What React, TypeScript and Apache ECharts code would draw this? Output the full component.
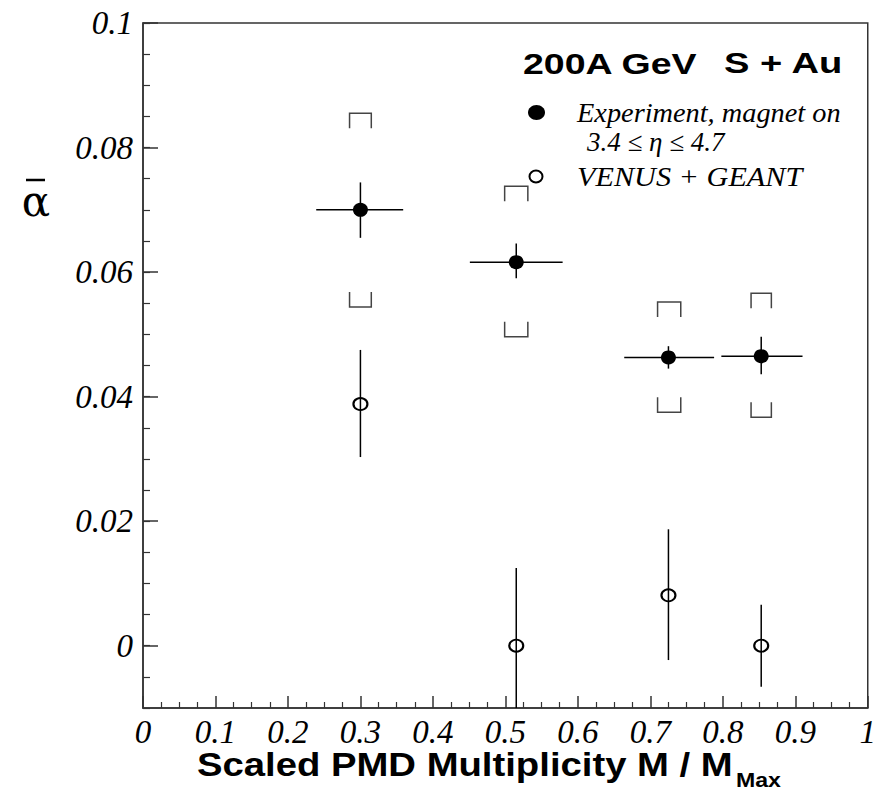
import React, { useEffect, useRef } from "react";
import * as echarts from "echarts";

// ---- data ----
const xCenters = [0.3, 0.515, 0.725, 0.853];

const expY = [0.07, 0.0616, 0.0463, 0.0465];
const expYLow = [0.0655, 0.059, 0.0445, 0.0436];
const expYHigh = [0.0744, 0.0646, 0.0481, 0.0496];
const expXLow = [0.239, 0.451, 0.664, 0.798];
const expXHigh = [0.359, 0.579, 0.788, 0.91];

const sysHigh = [0.0855, 0.0738, 0.0552, 0.0566];
const sysLow = [0.0544, 0.0496, 0.0375, 0.0367];
const sysXLow = [0.285, 0.499, 0.71, 0.839];
const sysXHigh = [0.315, 0.531, 0.742, 0.867];

const simY = [0.0388, 0.0, 0.0081, 0.0];
const simYLow = [0.0303, -0.0125, -0.0023, -0.0066];
const simYHigh = [0.0475, 0.0125, 0.0187, 0.0066];

const yMajorTicks = [0, 0.02, 0.04, 0.06, 0.08, 0.1];

const TITLE_A = "200A GeV";
const TITLE_B = "S + Au";
const LEG_EXP_1 = "Experiment, magnet on";
const LEG_EXP_2 = "3.4 \u2264 \u03b7 \u2264 4.7";
const LEG_SIM = "VENUS + GEANT";
const X_TITLE = "Scaled PMD Multiplicity M / M";
const X_TITLE_SUB = "Max";
const Y_TITLE = "\u03b1";

export default function App() {
  const ref = useRef<HTMLDivElement>(null);

  useEffect(() => {
    document.body.style.margin = "0";
    if (!ref.current) return;
    const chart = echarts.init(ref.current, undefined, { renderer: "svg" });

    const expData = xCenters.map((x, i) => [x, expY[i]]);
    const expErr = xCenters.map((x, i) => [x, expY[i], expYLow[i], expYHigh[i], expXLow[i], expXHigh[i]]);
    const sysData = xCenters.map((x, i) => [sysXLow[i], sysXHigh[i], sysHigh[i], sysLow[i]]);
    const simData = xCenters.map((x, i) => [x, simY[i]]);
    const simErr = xCenters.map((x, i) => [x, simY[i], simYLow[i], simYHigh[i]]);

    const axisColor = "#333";
    const tickFont = {
      fontFamily: "Liberation Serif",
      fontStyle: "italic" as const,
      fontSize: 33,
      color: "#000",
    };

    const errRender = (params: any, api: any) => {
      const x = api.value(0);
      const y = api.value(1);
      const lo = api.coord([x, api.value(2)]);
      const hi = api.coord([x, api.value(3)]);
      const children: any[] = [
        {
          type: "line",
          shape: { x1: lo[0], y1: lo[1], x2: hi[0], y2: hi[1] },
          style: { stroke: "#000", lineWidth: 1.5 },
        },
      ];
      const xl = api.value(4);
      const xh = api.value(5);
      if (isFinite(xl) && isFinite(xh)) {
        const a = api.coord([xl, y]);
        const b = api.coord([xh, y]);
        children.push({
          type: "line",
          shape: { x1: a[0], y1: a[1], x2: b[0], y2: b[1] },
          style: { stroke: "#000", lineWidth: 1.5 },
        });
      }
      return { type: "group", children };
    };

    const leg = 15;
    const bracketRender = (params: any, api: any) => {
      const xl = api.value(0);
      const xh = api.value(1);
      const t1 = api.coord([xl, api.value(2)]);
      const t2 = api.coord([xh, api.value(2)]);
      const b1 = api.coord([xl, api.value(3)]);
      const b2 = api.coord([xh, api.value(3)]);
      const st = { stroke: "#444", lineWidth: 1.5, fill: "none" };
      return {
        type: "group",
        children: [
          {
            type: "polyline",
            shape: { points: [[t1[0], t1[1] + leg], [t1[0], t1[1]], [t2[0], t2[1]], [t2[0], t2[1] + leg]] },
            style: st,
          },
          {
            type: "polyline",
            shape: { points: [[b1[0], b1[1] - leg], [b1[0], b1[1]], [b2[0], b2[1]], [b2[0], b2[1] - leg]] },
            style: st,
          },
        ],
      };
    };

    const option: any = {
      animation: false,
      backgroundColor: "#fff",
      grid: {
        left: 143,
        top: 23,
        width: 732,
        height: 685,
        show: true,
        borderColor: axisColor,
        borderWidth: 1.5,
        backgroundColor: "transparent",
      },
      xAxis: {
        type: "value",
        min: 0,
        max: 1,
        interval: 0.1,
        axisLine: { show: true, onZero: false, lineStyle: { color: axisColor, width: 1.5 } },
        axisTick: { show: true, inside: true, length: 12, lineStyle: { color: axisColor, width: 1.5 } },
        minorTick: { show: true, splitNumber: 4, length: 6, lineStyle: { color: axisColor, width: 1.2 } },
        splitLine: { show: false },
        minorSplitLine: { show: false },
        axisLabel: {
          ...tickFont,
          margin: 7,
          formatter: (v: number) => String(parseFloat(v.toFixed(2))),
        },
      },
      yAxis: [
        {
          type: "value",
          position: "left",
          min: -0.01,
          max: 0.1,
          axisLine: { show: true, onZero: false, lineStyle: { color: axisColor, width: 1.5 } },
          axisTick: {
            show: true,
            inside: true,
            length: 15,
            customValues: yMajorTicks,
            lineStyle: { color: axisColor, width: 1.5 },
          },
          splitLine: { show: false },
          axisLabel: {
            ...tickFont,
            margin: 10,
            customValues: yMajorTicks,
            formatter: (v: number) => (v === 0 ? "0" : String(parseFloat(v.toFixed(3)))),
          },
        },
        {
          type: "value",
          position: "left",
          min: -0.01,
          max: 0.1,
          interval: 0.005,
          axisLine: { show: false, onZero: false },
          axisTick: { show: true, inside: true, length: 7, lineStyle: { color: axisColor, width: 1.2 } },
          axisLabel: { show: false },
          splitLine: { show: false },
        },
      ],
      series: [
        {
          type: "custom",
          name: "sys",
          renderItem: bracketRender,
          data: sysData,
          encode: { x: [0, 1], y: [2, 3] },
          clip: true,
          z: 2,
        },
        {
          type: "custom",
          name: "expErr",
          renderItem: errRender,
          data: expErr,
          encode: { x: 0, y: 1 },
          clip: true,
          z: 2,
        },
        {
          type: "custom",
          name: "simErr",
          renderItem: errRender,
          data: simErr,
          encode: { x: 0, y: 1 },
          clip: true,
          z: 2,
        },
        {
          type: "scatter",
          name: "Experiment, magnet on",
          data: expData,
          symbol: "circle",
          symbolSize: [15, 14],
          itemStyle: { color: "#000", opacity: 1 },
          z: 5,
        },
        {
          type: "scatter",
          name: "VENUS + GEANT",
          data: simData,
          symbol: "circle",
          symbolSize: [14, 12],
          itemStyle: { color: "rgba(0,0,0,0)", borderColor: "#000", borderWidth: 2, opacity: 1 },
          z: 5,
        },
      ],
      graphic: [
        {
          type: "text",
          x: 523,
          y: 63,
          scaleX: 1.25,
          style: {
            text: TITLE_A,
            fontFamily: "Liberation Sans",
            fontWeight: "bold",
            fontSize: 30,
            fill: "#000",
            textVerticalAlign: "middle",
            textAlign: "left",
          },
        },
        {
          type: "text",
          x: 724,
          y: 63,
          scaleX: 1.27,
          style: {
            text: TITLE_B,
            fontFamily: "Liberation Sans",
            fontWeight: "bold",
            fontSize: 30,
            fill: "#000",
            textVerticalAlign: "middle",
            textAlign: "left",
          },
        },
        { type: "ellipse", shape: { cx: 536.5, cy: 112.5, rx: 8.5, ry: 7.5 }, style: { fill: "#000" } },
        {
          type: "text",
          x: 577,
          y: 113,
          scaleX: 1.05,
          style: {
            text: LEG_EXP_1,
            fontFamily: "Liberation Serif",
            fontStyle: "italic",
            fontSize: 27,
            fill: "#000",
            textVerticalAlign: "middle",
          },
        },
        {
          type: "text",
          x: 587,
          y: 142,
          style: {
            text: LEG_EXP_2,
            fontFamily: "Liberation Serif",
            fontStyle: "italic",
            fontSize: 27,
            fill: "#000",
            textVerticalAlign: "middle",
          },
        },
        {
          type: "ellipse",
          shape: { cx: 536, cy: 176.5, rx: 6.5, ry: 6 },
          style: { fill: "none", stroke: "#000", lineWidth: 2 },
        },
        {
          type: "text",
          x: 577,
          y: 177,
          scaleX: 1.12,
          style: {
            text: LEG_SIM,
            fontFamily: "Liberation Serif",
            fontStyle: "italic",
            fontSize: 27,
            fill: "#000",
            textVerticalAlign: "middle",
          },
        },
        {
          type: "text",
          x: 197,
          y: 765,
          scaleX: 1.16,
          style: {
            text: X_TITLE,
            fontFamily: "Liberation Sans",
            fontWeight: "bold",
            fontSize: 33,
            fill: "#000",
            textVerticalAlign: "middle",
          },
        },
        {
          type: "text",
          x: 736,
          y: 780,
          scaleX: 1.1,
          style: {
            text: X_TITLE_SUB,
            fontFamily: "Liberation Sans",
            fontWeight: "bold",
            fontSize: 21,
            fill: "#000",
            textVerticalAlign: "middle",
          },
        },
        {
          type: "text",
          x: 36,
          y: 201,
          style: {
            text: Y_TITLE,
            fontFamily: "DejaVu Serif",
            fontSize: 42,
            fill: "#000",
            textAlign: "center",
            textVerticalAlign: "middle",
          },
        },
        {
          type: "line",
          shape: { x1: 26, y1: 180, x2: 45, y2: 180 },
          style: { stroke: "#000", lineWidth: 2.5 },
        },
      ],
    };

    chart.setOption(option);
    return () => chart.dispose();
  }, []);

  return <div ref={ref} style={{ width: 879, height: 792 }} />;
}
